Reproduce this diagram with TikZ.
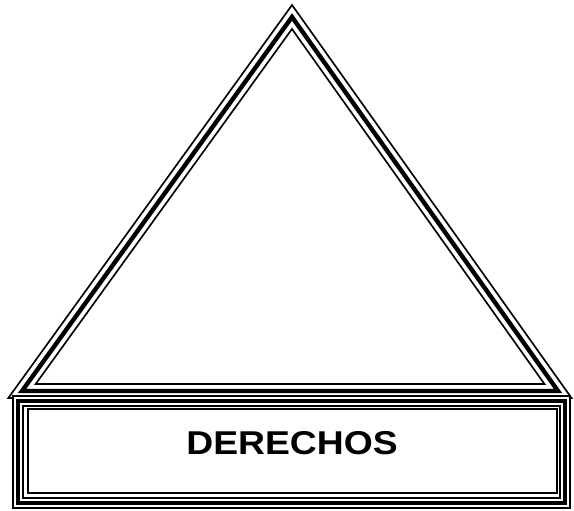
\documentclass[tikz,border=0pt]{standalone}
\usepackage{fontspec}
\setmainfont{Liberation Sans}

\tikzset{
    tripleLine/.style={draw=black, line width=6pt, line join=miter,
        postaction={draw=white, line width=4.2pt},
        postaction={draw=black, line width=1.9pt}},
    roofLine/.style={draw=black, line width=7.8pt, line join=miter,
        postaction={draw=white, line width=6pt},
        postaction={draw=black, line width=2.2pt}},
    innerLine/.style={draw=black, line width=1.2pt},
    labelText/.style={font=\bfseries\fontsize{16.5}{18}\selectfont, xscale=1.13}
}

\begin{document}
\begin{tikzpicture}[x=0.5pt, y=-0.5pt]
    % Fix the page size
    \useasboundingbox (0,0) rectangle (574,510);

    % Define coordinates for the roof
    \coordinate (apex) at (292,17);
    \coordinate (baseLeft) at (22,391);
    \coordinate (baseRight) at (558,391);

    % Define coordinates for the box
    \coordinate (boxTopLeft) at (18,401);
    \coordinate (boxBottomRight) at (565,503);
    \coordinate (innerTopLeft) at (28,409);
    \coordinate (innerBottomRight) at (557,493);

    % Draw roof
    \draw[roofLine] (apex) -- (baseLeft) -- (baseRight) -- cycle;

    % Draw box
    \draw[tripleLine] (boxTopLeft) rectangle (boxBottomRight);
    \draw[innerLine] (innerTopLeft) rectangle (innerBottomRight);

    % Label
    \node[labelText] (derechos) at (292,443) {DERECHOS};

\end{tikzpicture}
\end{document}
